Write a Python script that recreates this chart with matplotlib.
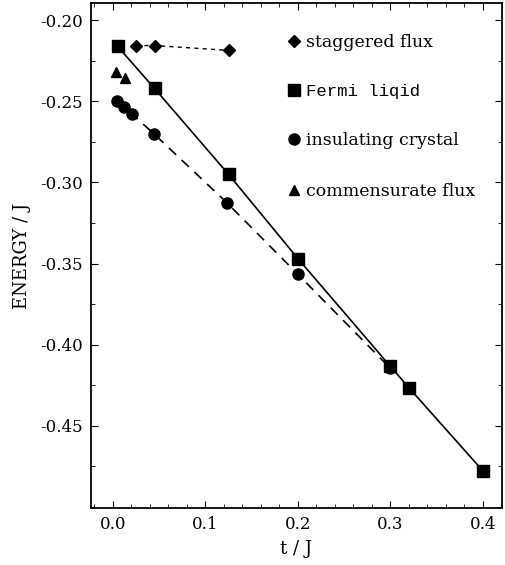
import matplotlib
matplotlib.use("Agg")
import matplotlib.pyplot as plt
from matplotlib.ticker import MultipleLocator

plt.rcParams['font.family'] = 'DejaVu Serif'
plt.rcParams['axes.unicode_minus'] = False

# staggered flux
stag_t = [0.025, 0.045, 0.125]
stag_e = [-0.2155, -0.2155, -0.2185]

# Fermi liquid
fermi_t = [0.005, 0.045, 0.125, 0.2, 0.3, 0.32, 0.4]
fermi_e = [-0.216, -0.242, -0.295, -0.347, -0.4135, -0.4267, -0.478]

# insulating crystal
ins_t = [0.004, 0.012, 0.021, 0.044, 0.123, 0.2, 0.3]
ins_e = [-0.250, -0.2537, -0.258, -0.2698, -0.3124, -0.3567, -0.4147]

# commensurate flux
comm_t = [0.003, 0.013]
comm_e = [-0.2319, -0.2358]

y_ticks = [-0.45, -0.40, -0.35, -0.30, -0.25, -0.20]

fig = plt.figure(figsize=(5.05, 5.65), dpi=100)
ax = fig.add_axes([0.180, 0.101, 0.814, 0.893])

ax.plot(stag_t, stag_e, color='black', ls=(0, (3, 3)), lw=1.0,
        marker='D', ms=6, label='staggered flux')
ax.plot(fermi_t, fermi_e, color='black', ls='-', lw=1.2,
        marker='s', ms=8, label='Fermi liqid')
ax.plot(ins_t, ins_e, color='black', ls=(0, (6, 4.5)), lw=1.2,
        marker='o', ms=8, label='insulating crystal')
ax.plot(comm_t, comm_e, color='black', ls='none',
        marker='^', ms=7.5, label='commensurate flux')

ax.set_xlim(-0.0238, 0.4205)
ax.set_ylim(-0.5008, -0.1895)
ax.xaxis.set_major_locator(MultipleLocator(0.1))
ax.xaxis.set_minor_locator(MultipleLocator(0.02))
ax.set_yticks(y_ticks)
ax.yaxis.set_minor_locator(MultipleLocator(0.025))
ax.xaxis.set_major_formatter(plt.FormatStrFormatter('%.1f'))
ax.yaxis.set_major_formatter(plt.FormatStrFormatter('%.2f'))
ax.tick_params(which='both', direction='in', top=True, right=True,
               labelsize=12)
ax.tick_params(which='major', length=5, pad=6)
ax.tick_params(which='minor', length=3)
for s in ax.spines.values():
    s.set_linewidth(1.3)

ax.set_xlabel('t / J', fontsize=13, labelpad=5)
ax.set_ylabel('ENERGY / J', fontsize=13, labelpad=6)

leg = ax.legend(loc='upper left', bbox_to_anchor=(0.474, 0.940),
                frameon=False, borderpad=0, borderaxespad=0,
                handlelength=1.0, handletextpad=0.15, labelspacing=1.92,
                fontsize=12.5)
for h in leg.legend_handles:
    h.set_linestyle('none')
leg.get_texts()[1].set_family('Liberation Mono')

fig.savefig('out.png', dpi=100)
